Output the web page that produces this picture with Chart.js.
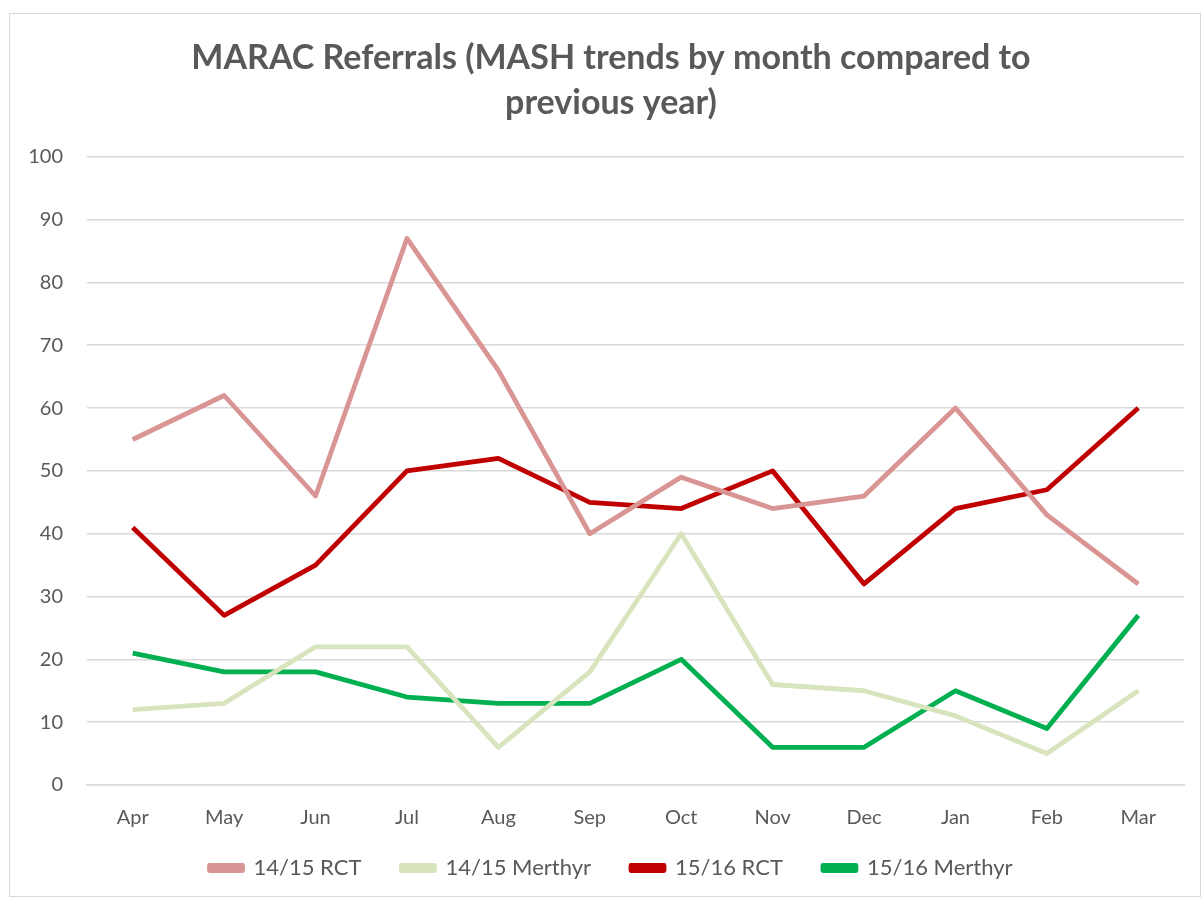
<!DOCTYPE html>
<html>
<head>
<meta charset="utf-8">
<script src="https://cdn.jsdelivr.net/npm/chart.js@4/dist/chart.umd.min.js"></script>
<style>
    body { margin: 0; background: #fff; }
    #box { position: absolute; left: 9px; top: 13px; width: 1192px; height: 884px; border: 1px solid #d9d9d9; box-sizing: border-box; }
    #chart { display: block; }
</style>
</head>
<body>
<div id="box"><canvas id="chart" width="1190" height="882"></canvas></div>
<script>
const months = ['Apr', 'May', 'Jun', 'Jul', 'Aug', 'Sep', 'Oct', 'Nov', 'Dec', 'Jan', 'Feb', 'Mar'];
const rct1415 = [55, 62, 46, 87, 66, 40, 49, 44, 46, 60, 43, 32];
const merthyr1415 = [12, 13, 22, 22, 6, 18, 40, 16, 15, 11, 5, 15];
const rct1516 = [41, 27, 35, 50, 52, 45, 44, 50, 32, 44, 47, 60];
const merthyr1516 = [21, 18, 18, 14, 13, 13, 20, 6, 6, 15, 9, 27];

const textColor = '#595959';
const fontFamily = 'Lato, "Open Sans", sans-serif';

function line(label, data, color) {
    return {
        label: label,
        data: data,
        borderColor: color,
        backgroundColor: color,
        borderWidth: 4.8,
        pointRadius: 0,
        tension: 0,
        borderJoinStyle: 'round'
    };
}

// Excel centres title and legend on the whole chart box, nudge them to match
const nudgeBlocks = {
    id: 'nudgeBlocks',
    afterLayout(chart) {
        const dx = 14;
        const dy = -13;
        [chart.titleBlock, chart.legend].forEach(b => {
            if (!b) return;
            b.left += dx;
            b.right += dx;
        });
        chart.legend.top += dy;
        chart.legend.bottom += dy;
    }
};

const ctx = document.getElementById('chart').getContext('2d');
new Chart(ctx, {
    type: 'line',
    data: {
        labels: months,
        datasets: [
            line('14/15 RCT', rct1415, '#d99594'),
            line('14/15 Merthyr', merthyr1415, '#d7e4bd'),
            line('15/16 RCT', rct1516, '#c00000'),
            line('15/16 Merthyr', merthyr1516, '#00b050')
        ]
    },
    plugins: [nudgeBlocks],
    options: {
        responsive: false,
        animation: false,
        layout: { padding: { left: 0, right: 16, top: 22, bottom: 0 } },
        plugins: {
            title: {
                display: true,
                text: ['MARAC Referrals (MASH trends by month compared to', 'previous year)'],
                color: textColor,
                font: { family: fontFamily, size: 34, weight: 'bold', lineHeight: 1.32 },
                padding: { top: 0, bottom: 31 }
            },
            legend: {
                position: 'bottom',
                maxHeight: 66,
                labels: {
                    color: textColor,
                    font: { family: fontFamily, size: 22 },
                    boxWidth: 33,
                    boxHeight: 5,
                    padding: 40
                }
            },
            tooltip: { enabled: false }
        },
        scales: {
            y: {
                min: 0,
                max: 100,
                ticks: {
                    stepSize: 10,
                    color: textColor,
                    font: { family: fontFamily, size: 20 },
                    padding: 24
                },
                grid: { color: '#d9d9d9', lineWidth: 1.5, drawTicks: false },
                border: { display: false },
                afterFit: axis => { axis.width = 77; }
            },
            x: {
                offset: true,
                ticks: {
                    color: textColor,
                    font: { family: fontFamily, size: 20 },
                    padding: 21
                },
                grid: { display: false, drawTicks: false },
                border: { color: '#d9d9d9', width: 1.5 },
                afterFit: axis => { axis.height = 45; }
            }
        }
    }
});
</script>
</body>
</html>
